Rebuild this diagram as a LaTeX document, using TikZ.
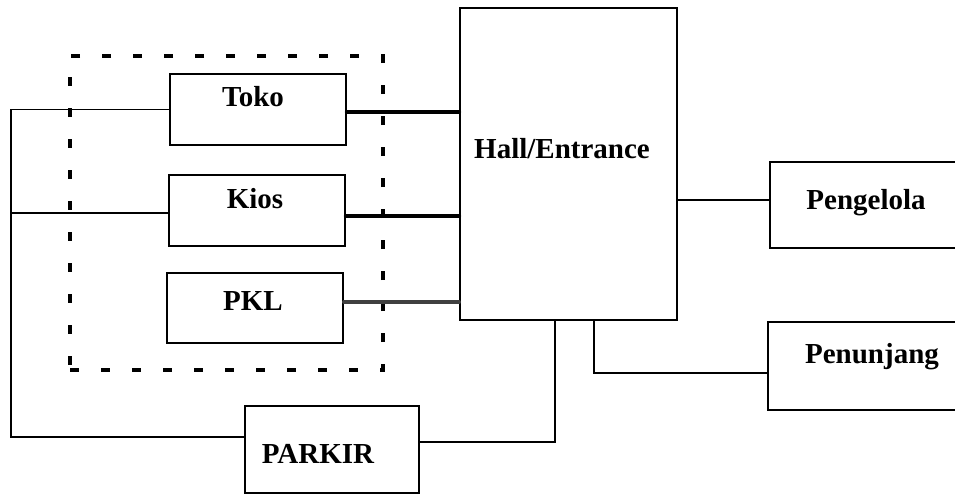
\documentclass[tikz,border=0pt]{standalone}
\usepackage{fontspec}
\setmainfont{Liberation Serif}
\begin{document}
\begin{tikzpicture}[x=1pt,y=-1pt,
  box/.style={draw,line width=1.8pt,rectangle,inner sep=0pt},
  lbl/.style={font=\fontsize{29}{34}\selectfont\bfseries,inner sep=0pt},
  thin/.style={line width=1.8pt},
  thick/.style={line width=4.2pt,line cap=round},
  grpbox/.style={draw,line width=3.5pt,dash pattern=on 9pt off 22pt,rectangle,inner sep=0pt}]
\clip (0,0) rectangle (955,495);
\fill[white] (0,0) rectangle (955,495);
% boxes
\node[box,minimum width=176pt,minimum height=71pt] (toko) at (258,109.5) {};
\node[box,minimum width=176pt,minimum height=71pt] (kios) at (257,210.5) {};
\node[box,minimum width=176pt,minimum height=70pt] (pkl) at (255,308) {};
\node[box,minimum width=217pt,minimum height=312pt] (hall) at (568.5,164) {};
\node[box,minimum width=200pt,minimum height=86pt] (peng) at (870,205) {};
\node[box,minimum width=200pt,minimum height=88pt] (penu) at (868,366) {};
\node[box,minimum width=174pt,minimum height=87pt] (parkir) at (332,449.5) {};
\node[grpbox,minimum width=313pt,minimum height=314pt] (grp) at (226.5,213) {};
% labels
\node[lbl] (tokot) at (253,97) {Toko};
\node[lbl] (kiost) at (255,199) {Kios};
\node[lbl] (pklt) at (253,301) {PKL};
\node[lbl] (hallt) at (562,149) {Hall/Entrance};
\node[lbl] (pengt) at (866,203) {Pengelola};
\node[lbl] (penut) at (872,357) {Penunjang};
\node[lbl] (parkirt) at (318,454) {PARKIR};
% connectors
\coordinate (lt) at (11,109);
\coordinate (lb) at (11,437);
\draw[thin] (toko.west) -- (toko.west -| lt) -- (lb) -- (lb -| parkir.west);
\draw[thin] ([yshift=-2.5pt]kios.west) -- ([yshift=-2.5pt]kios.west -| lt);
\draw[thick] ([yshift=-2.5pt]toko.east) -- ([yshift=-2.5pt]toko.east -| hall.west);
\draw[thick] ([yshift=-5.5pt]kios.east) -- ([yshift=-5.5pt]kios.east -| hall.west);
\draw[thick,black!75,line width=3.8pt] ([yshift=6pt]pkl.east) -- ([yshift=6pt]pkl.east -| hall.west);
\draw[thin] ([yshift=5pt]peng.west) -- ([yshift=5pt]peng.west -| hall.east);
\draw[thin] ([xshift=25.5pt]hall.south) |- ([yshift=-7pt]penu.west);
\draw[thin] ([xshift=-13.5pt]hall.south) |- ([yshift=7.5pt]parkir.east);
\end{tikzpicture}
\end{document}
